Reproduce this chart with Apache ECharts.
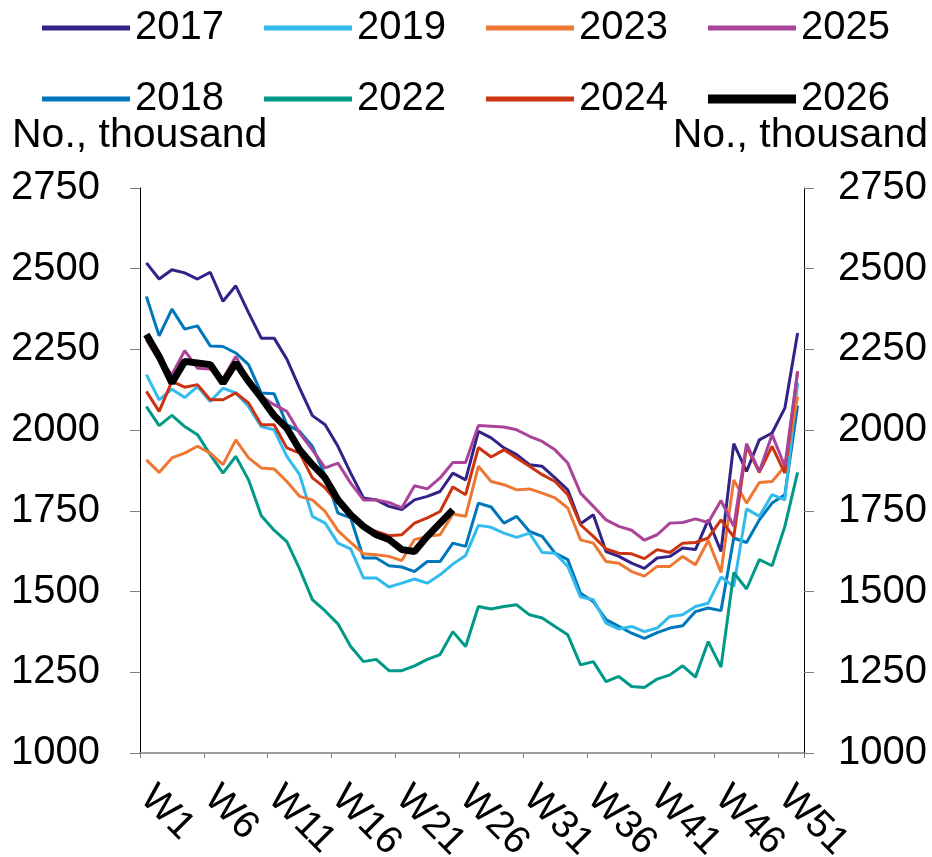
<!DOCTYPE html>
<html>
<head>
<meta charset="utf-8">
<title>Weekly numbers</title>
<script src="https://cdn.jsdelivr.net/npm/echarts@6.0.0/dist/echarts.min.js"></script>
<style>
  html, body { margin: 0; padding: 0; background: #fff; }
  #chart { width: 932px; height: 857px; }
</style>
</head>
<body>
<div id="chart"></div>
<script>
// week labels W1..W52
const weeks = [];
for (let i = 1; i <= 52; i++) weeks.push("W" + i);

const yTicks = { min: 1000, max: 2750, step: 250 };

// values, thousands
const y2017 = [2518,2468,2497,2487,2468,2489,2399,2447,2364,2285,
  2285,2220,2130,2045,2017,1950,1867,1790,1784,1764,
  1754,1784,1795,1810,1867,1846,1996,1976,1945,1924,
  1893,1888,1852,1815,1710,1738,1624,1609,1588,1572,
  1604,1609,1635,1630,1722,1624,1958,1872,1970,1991,
  2068,2301];
const y2018 = [2414,2292,2375,2313,2323,2261,2259,2239,2203,2115,
  2113,2017,1996,1950,1860,1743,1728,1604,1604,1580,
  1576,1562,1593,1593,1650,1640,1774,1762,1712,1733,
  1686,1671,1619,1599,1495,1469,1413,1392,1371,1355,
  1373,1387,1394,1438,1449,1441,1666,1652,1722,1774,
  1800,2076];
const y2019 = [2172,2094,2127,2101,2135,2089,2130,2115,2073,2011,
  2001,1919,1862,1733,1712,1650,1632,1542,1542,1514,
  1526,1539,1526,1552,1585,1612,1705,1699,1681,1668,
  1681,1621,1619,1578,1483,1475,1402,1384,1392,1376,
  1387,1423,1428,1454,1464,1545,1516,1756,1733,1800,
  1784,2146];
const y2022 = [2073,2014,2046,2011,1986,1924,1867,1919,1846,1735,
  1690,1655,1570,1475,1440,1400,1330,1283,1290,1255,
  1255,1270,1290,1305,1376,1330,1454,1446,1454,1459,
  1428,1418,1392,1366,1273,1283,1221,1237,1206,1203,
  1229,1242,1270,1235,1345,1266,1559,1508,1599,1580,
  1702,1869];
const y2023 = [1908,1869,1914,1929,1950,1929,1893,1970,1914,1883,
  1880,1841,1795,1784,1748,1689,1652,1617,1614,1609,
  1596,1661,1671,1676,1740,1733,1888,1841,1831,1815,
  1818,1805,1790,1759,1660,1650,1593,1588,1562,1548,
  1578,1578,1609,1583,1658,1559,1846,1774,1838,1841,
  1888,2104];
const y2024 = [2120,2058,2151,2133,2141,2094,2094,2115,2084,2017,
  2017,1945,1929,1852,1821,1774,1743,1702,1686,1673,
  1676,1712,1728,1748,1824,1800,1946,1917,1939,1914,
  1888,1862,1841,1800,1707,1671,1632,1619,1617,1602,
  1630,1621,1650,1652,1666,1722,1669,1950,1869,1950,
  1867,2182];
const y2025 = [2280,2215,2172,2246,2192,2189,2160,2228,2155,2105,
  2079,2058,1991,1939,1883,1898,1836,1784,1784,1776,
  1759,1828,1818,1852,1900,1900,2014,2012,2010,2001,
  1981,1965,1939,1898,1805,1764,1722,1702,1690,1659,
  1676,1712,1714,1725,1714,1782,1702,1958,1872,1986,
  1888,2182];
const y2026 = [2296,2228,2146,2213,2208,2203,2146,2208,2151,2100,
  2045,2006,1939,1893,1852,1784,1738,1702,1676,1661,
  1630,1624,1671,1712,1753];

const years = ["2017", "2018", "2019", "2022", "2023", "2024", "2025", "2026"];
const values = [y2017, y2018, y2019, y2022, y2023, y2024, y2025, y2026];
const colors = ["#332288", "#0077bb", "#33bbee", "#009988", "#ee7733", "#cc3311", "#aa4499", "#000000"];

const font = "Liberation Sans, Arial, sans-serif";
const chart = echarts.init(document.getElementById("chart"));

const series = years.map((y, i) => ({
  name: y,
  type: "line",
  data: values[i],
  yAxisIndex: 0,
  symbol: "none",
  color: colors[i],
  lineStyle: { width: y === "2026" ? 7 : 3, color: colors[i] },
  z: 2 + i,
}));

function legendRow(data, left, top, h) {
  return {
    data: data,
    left: left,
    top: top,
    orient: "horizontal",
    icon: "rect",
    itemWidth: 88,
    itemHeight: h,
    itemGap: 40,
    padding: 0,
    selectedMode: false,
    textStyle: { fontSize: 40, color: "#000", fontFamily: font },
  };
}

function yAxisDef(pos, margin) {
  return {
    type: "value",
    position: pos,
    min: yTicks.min,
    max: yTicks.max,
    interval: yTicks.step,
    axisLine: { show: true, lineStyle: { color: "#000", width: 1 } },
    axisTick: { show: true, length: 10, lineStyle: { color: "#7f7f7f" } },
    splitLine: { show: false },
    axisLabel: {
      fontSize: 40, color: "#000", fontFamily: font, margin: margin,
      formatter: (v) => String(v),
    },
  };
}

chart.setOption({
  animation: false,
  backgroundColor: "#fff",
  grid: { left: 140, right: 128, top: 188, bottom: 104, outerBoundsMode: "none" },
  legend: [
    legendRow(["2017", "2019", "2023", "2025"], 42, 8, 5),
    legendRow(["2018", "2022", "2024"], 42, 79, 5),
    legendRow(["2026"], 708, 79, 9),
  ],
  graphic: [
    { type: "text", left: 12, top: 115, style: { text: "No., thousand", fontSize: 41, fill: "#000", fontFamily: font } },
    { type: "text", right: 4, top: 115, style: { text: "No., thousand", fontSize: 41, fill: "#000", fontFamily: font } },
  ],
  xAxis: {
    type: "category",
    data: weeks,
    boundaryGap: true,
    axisLine: { show: true, lineStyle: { color: "#7f7f7f", width: 1.5 } },
    axisTick: { show: true, interval: 4, length: 5, lineStyle: { color: "#7f7f7f" } },
    axisLabel: { interval: 4, rotate: -45, fontSize: 39, color: "#000", fontFamily: font, margin: 39 },
    splitLine: { show: false },
  },
  yAxis: [yAxisDef("left", 40), yAxisDef("right", 34)],
  series: series,
});
</script>
</body>
</html>
